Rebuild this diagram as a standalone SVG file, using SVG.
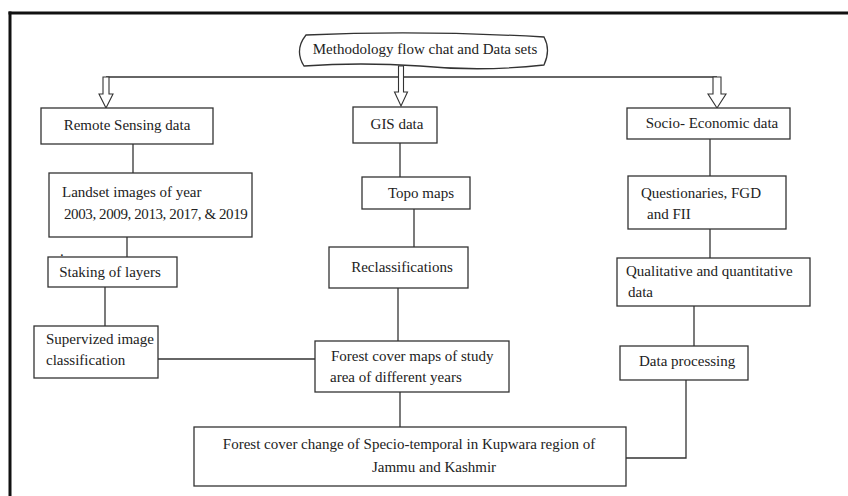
<svg xmlns="http://www.w3.org/2000/svg" width="848" height="496" viewBox="0 0 848 496">
<style>
.bx{fill:#fff;stroke:#333;stroke-width:1.3}
.ln{fill:none;stroke:#333;stroke-width:1.3}
.ar{fill:#fff;stroke:#333;stroke-width:1.1;stroke-linejoin:miter}
text{font-family:"Liberation Serif","Times New Roman",serif;font-size:15px;fill:#222}
.c{text-anchor:middle}
</style>
<rect x="0" y="0" width="848" height="496" fill="#fff"/>
<g id="frame">
<line x1="8.5" y1="13" x2="848" y2="13" stroke="#111" stroke-width="3"/>
<line x1="10" y1="11.5" x2="10" y2="496" stroke="#111" stroke-width="3"/>
</g>
<g id="connectors">
<line class="ln" x1="106" y1="77" x2="717" y2="77"/>
<polygon class="ar" points="103,77 109,77 109,94 113,94 106,108 99,94 103,94"/>
<polygon class="ar" points="398.5,66 403.5,66 403.5,92 407.5,92 401,106 394.5,92 398.5,92"/>
<polygon class="ar" points="713,77 721,77 721,94 726,94 717,108 708,94 713,94"/>
<line class="ln" x1="133" y1="144" x2="133" y2="173"/>
<line class="ln" x1="127" y1="237" x2="127" y2="257"/>
<line class="ln" x1="105" y1="287" x2="105" y2="326"/>
<line class="ln" x1="158" y1="359" x2="315" y2="359"/>
<line class="ln" x1="400" y1="143" x2="400" y2="177"/>
<line class="ln" x1="414" y1="209" x2="414" y2="247"/>
<line class="ln" x1="398" y1="288" x2="398" y2="341"/>
<line class="ln" x1="400" y1="392" x2="400" y2="427"/>
<line class="ln" x1="710" y1="139" x2="710" y2="176"/>
<line class="ln" x1="710" y1="229" x2="710" y2="258"/>
<line class="ln" x1="694" y1="306" x2="694" y2="346"/>
<polyline class="ln" points="686,380 686,458 626,458"/>
</g>
<g id="title">
<path class="bx" d="M306 35 Q420 30 544 37 Q551 50 544 65 Q482 72 420 66 Q360 62 304 66 Q294 50 306 35 Z"/>
<text x="425" y="54" class="c">Methodology flow chat and Data sets</text>
</g>
<g id="remote-sensing">
<rect class="bx" x="41" y="108" width="172" height="36"/>
<text x="127" y="130" class="c">Remote Sensing data</text>
</g>
<g id="gis">
<rect class="bx" x="353" y="107" width="84" height="36"/>
<text x="397" y="129" class="c">GIS data</text>
</g>
<g id="socio">
<rect class="bx" x="627" y="108" width="163" height="31"/>
<text x="712" y="128" class="c">Socio- Economic data</text>
</g>
<g id="landset">
<rect class="bx" x="49" y="173" width="203" height="64"/>
<text x="62" y="197">Landset images of year</text>
<text x="64" y="219" letter-spacing="-0.4">2003, 2009, 2013, 2017, &amp; 2019</text>
</g>
<text x="60" y="256">.</text>
<g id="topo">
<rect class="bx" x="362" y="177" width="108" height="32"/>
<text x="421" y="198" class="c">Topo maps</text>
</g>
<g id="questionaries">
<rect class="bx" x="628" y="176" width="158" height="53"/>
<text x="641" y="198">Questionaries, FGD</text>
<text x="647" y="219">and FII</text>
</g>
<g id="staking">
<rect class="bx" x="48" y="257" width="129" height="30"/>
<text x="110" y="277" class="c">Staking of layers</text>
</g>
<g id="reclass">
<rect class="bx" x="329" y="247" width="139" height="41"/>
<text x="402" y="272" class="c">Reclassifications</text>
</g>
<g id="qualitative">
<rect class="bx" x="617" y="258" width="193" height="48"/>
<text x="626" y="276">Qualitative and quantitative</text>
<text x="628" y="297">data</text>
</g>
<g id="supervized">
<rect class="bx" x="34" y="326" width="124" height="52"/>
<text x="46" y="344">Supervized image</text>
<text x="46" y="365">classification</text>
</g>
<g id="forest-maps">
<rect class="bx" x="315" y="341" width="194" height="51"/>
<text x="331" y="361">Forest cover maps of study</text>
<text x="330" y="382">area of different years</text>
</g>
<g id="data-processing">
<rect class="bx" x="620" y="346" width="128" height="34"/>
<text x="639" y="366">Data processing</text>
</g>
<g id="final">
<rect class="bx" x="194" y="427" width="432" height="59"/>
<text x="409" y="449" class="c">Forest cover change of Specio-temporal in Kupwara region of</text>
<text x="434" y="472" class="c">Jammu and Kashmir</text>
</g>
</svg>
